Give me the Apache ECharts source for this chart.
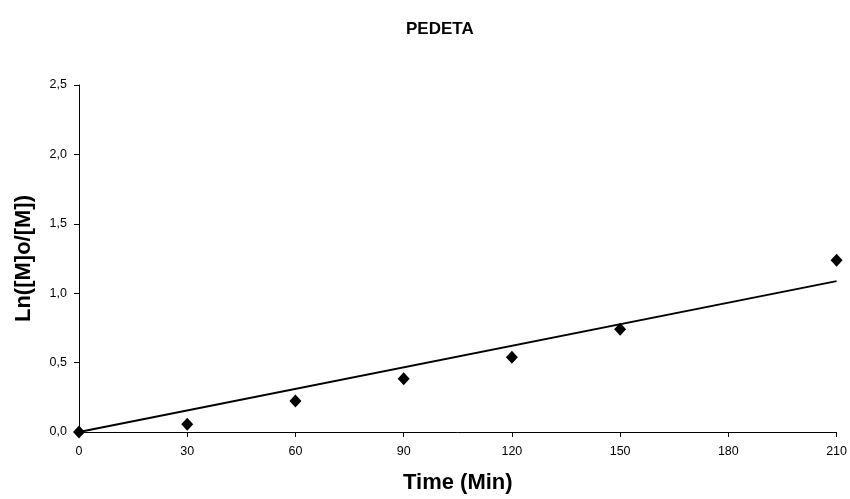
<!DOCTYPE html>
<html>
<head>
<meta charset="utf-8">
<script src="https://cdn.jsdelivr.net/npm/echarts@6/dist/echarts.min.js"></script>
<style>html,body{margin:0;padding:0;background:#fff}#c{width:850px;height:499px}</style>
</head>
<body>
<div id="c"></div>
<script>
var titleText = "PEDETA";
var xName = "Time (Min)";
var yName = "Ln([M]o/[M])";
var timeMin = [0, 30, 60, 90, 120, 150, 210];
var lnRatio = [0, 0.055, 0.223, 0.383, 0.539, 0.74, 1.238];
var trendX = [0, 210];
var trendY = [0, 1.087];

var FONT = "'Liberation Sans', Arial, sans-serif";
var chart = echarts.init(document.getElementById('c'));
chart.setOption({
  animation: false,
  backgroundColor: '#fff',
  title: {
    text: titleText,
    left: 401, top: 16,
    textStyle: {fontFamily: FONT, fontSize: 17, fontWeight: 'bold', color: '#000'}
  },
  grid: {left: 79, right: 13, top: 85, bottom: 66, containLabel: false},
  xAxis: {
    type: 'value', min: 0, max: 210, interval: 30,
    name: xName, nameLocation: 'middle', nameGap: 40,
    nameTextStyle: {fontFamily: FONT, fontSize: 22, fontWeight: 'bold', color: '#000'},
    axisLine: {show: true, lineStyle: {color: '#000', width: 1}},
    axisTick: {show: true, inside: false, length: 5, lineStyle: {color: '#000'}},
    axisLabel: {fontFamily: FONT, fontSize: 12.5, color: '#000', margin: 13},
    splitLine: {show: false}
  },
  yAxis: {
    type: 'value', min: 0, max: 2.5, interval: 0.5,
    name: yName, nameLocation: 'middle', nameGap: 44, nameRotate: 90,
    nameTextStyle: {fontFamily: FONT, fontSize: 22, fontWeight: 'bold', color: '#000'},
    axisLine: {show: true, lineStyle: {color: '#000', width: 1}},
    axisTick: {show: true, inside: false, length: 5, lineStyle: {color: '#000'}},
    axisLabel: {fontFamily: FONT, fontSize: 12.5, color: '#000', margin: 12,
      formatter: function (v) { return v.toFixed(1).replace('.', ','); }},
    splitLine: {show: false}
  },
  series: [
    {
      type: 'line',
      data: trendX.map(function (x, i) { return [x, trendY[i]]; }),
      showSymbol: false, symbol: 'none',
      lineStyle: {color: '#000', width: 2},
      z: 2
    },
    {
      type: 'scatter',
      data: timeMin.map(function (x, i) { return [x, lnRatio[i]]; }),
      symbol: 'diamond', symbolSize: [12, 13],
      itemStyle: {color: '#000', opacity: 1},
      clip: false,
      z: 3
    }
  ]
});
</script>
</body>
</html>
